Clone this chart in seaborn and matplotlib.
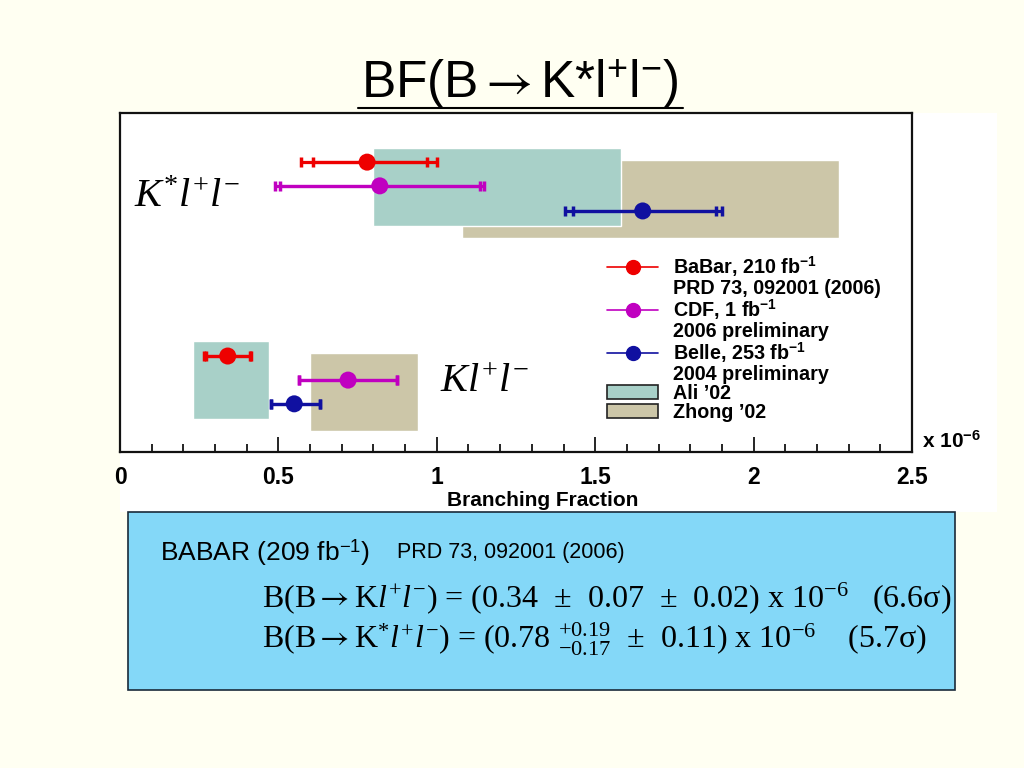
import matplotlib
matplotlib.use("Agg")
import matplotlib.pyplot as plt
import pandas as pd
import seaborn as sns
from matplotlib.lines import Line2D
from matplotlib.patches import Patch, Rectangle

# measurements, branching fraction in units of 1e-6
experiments = ["BaBar", "CDF", "Belle"]
exp_colors = ["#ee0000", "#c000c0", "#1010a0"]
legend_first = ["BaBar, 210 fb$^{\\mathbf{-1}}$", "CDF, 1 fb$^{\\mathbf{-1}}$", "Belle, 253 fb$^{\\mathbf{-1}}$"]
legend_second = ["PRD 73, 092001 (2006)", "2006 preliminary", "2004 preliminary"]

kstar_bf = [0.78, 0.82, 1.65]
kstar_stat_lo = [0.61, 0.505, 1.43]
kstar_stat_hi = [0.97, 1.135, 1.88]
kstar_tot_lo = [0.57, 0.49, 1.405]
kstar_tot_hi = [1.00, 1.15, 1.90]
kstar_row = [0.855, 0.785, 0.711]

kll_bf = [0.34, 0.72, 0.55]
kll_stat_lo = [0.27, 0.565, 0.477]
kll_stat_hi = [0.41, 0.875, 0.63]
kll_tot_lo = [0.265, 0.565, 0.477]
kll_tot_hi = [0.413, 0.875, 0.63]
kll_row = [0.283, 0.212, 0.142]

# theory predictions (bands)
theories = ["Ali \u201902", "Zhong \u201902"]
theory_colors = ["#a8d0c8", "#ccc6a8"]
kstar_band_lo = [0.80, 1.08]
kstar_band_hi = [1.58, 2.27]
kstar_band_ylo = [0.667, 0.631]
kstar_band_yhi = [0.897, 0.861]
kll_band_lo = [0.23, 0.60]
kll_band_hi = [0.47, 0.94]
kll_band_ylo = [0.097, 0.062]
kll_band_yhi = [0.327, 0.292]

sns.set_theme(style="white")
plt.rcParams["font.family"] = ["Liberation Sans", "DejaVu Sans"]
plt.rcParams["text.color"] = "black"
plt.rcParams["xtick.color"] = "black"
plt.rcParams["mathtext.fontset"] = "custom"
plt.rcParams["mathtext.rm"] = "Liberation Serif"
plt.rcParams["mathtext.it"] = "Liberation Serif:italic"
plt.rcParams["mathtext.bf"] = "Liberation Sans:bold"
plt.rcParams["mathtext.sf"] = "Liberation Sans"
plt.rcParams["mathtext.cal"] = "STIXGeneral"  # only used for the arrows

ARROW = "$\\mathcal{\\rightarrow}$"

fig = plt.figure(figsize=(10.24, 7.68), dpi=100, facecolor="#fffff2")

# white canvas behind the plot
fig.patches.append(Rectangle((0.1172, 0.3333), 0.8564, 0.5195, transform=fig.transFigure,
                             facecolor="white", edgecolor="none", zorder=-1))

ax = fig.add_axes([0.1172, 0.4115, 0.7734, 0.4414])
ax.set_facecolor("white")

# bands, Zhong under Ali
for i in [1, 0]:
    ax.barh(y=(kstar_band_ylo[i] + kstar_band_yhi[i]) / 2, width=kstar_band_hi[i] - kstar_band_lo[i],
            height=kstar_band_yhi[i] - kstar_band_ylo[i], left=kstar_band_lo[i],
            color=theory_colors[i], zorder=1)
    ax.barh(y=(kll_band_ylo[i] + kll_band_yhi[i]) / 2, width=kll_band_hi[i] - kll_band_lo[i],
            height=kll_band_yhi[i] - kll_band_ylo[i], left=kll_band_lo[i],
            color=theory_colors[i], zorder=1)

# error bars: total then statistical
for bf, row, lo_t, hi_t, lo_s, hi_s in [
    (kstar_bf, kstar_row, kstar_tot_lo, kstar_tot_hi, kstar_stat_lo, kstar_stat_hi),
    (kll_bf, kll_row, kll_tot_lo, kll_tot_hi, kll_stat_lo, kll_stat_hi),
]:
    for i, c in enumerate(exp_colors):
        for lo, hi in [(lo_t[i], hi_t[i]), (lo_s[i], hi_s[i])]:
            ax.errorbar(bf[i], row[i], xerr=[[bf[i] - lo], [hi - bf[i]]], fmt="none",
                        ecolor=c, elinewidth=2.3, capsize=3.5, capthick=2.5, zorder=3)

points = pd.DataFrame({
    "experiment": experiments * 2,
    "bf": kstar_bf + kll_bf,
    "row": kstar_row + kll_row,
})
sns.scatterplot(data=points, x="bf", y="row", hue="experiment", palette=exp_colors,
                s=150, edgecolor="none", legend=False, zorder=5, ax=ax)

ax.set_xlim(0, 2.5)
ax.set_ylim(0, 1)
ax.set_xlabel("")
ax.set_ylabel("")
ax.set_yticks([])
ax.set_xticks([0, 0.5, 1, 1.5, 2, 2.5])
ax.set_xticklabels(["0", "0.5", "1", "1.5", "2", "2.5"])
ax.set_xticks([x / 10 for x in range(26)], minor=True)
ax.tick_params(axis="x", which="major", direction="in", length=11, width=1.2, color="black",
               pad=10, labelsize=16.5, labelcolor="black", bottom=True)
ax.tick_params(axis="x", which="minor", direction="in", length=6, width=1.2, color="black", bottom=True)
for lab in ax.get_xticklabels():
    lab.set_fontweight("bold")
for sp in ax.spines.values():
    sp.set_color("#111111")
    sp.set_linewidth(1.6)

ax.text(0.654, -0.142, "Branching Fraction", transform=ax.transAxes, ha="right", va="center",
        fontsize=15, fontweight="bold")
ax.text(1.013, 0.0, "x 10$^{\\mathbf{-6}}$", transform=ax.transAxes, ha="left", va="bottom",
        fontsize=15, fontweight="bold")

ax.text(0.045, 0.723, "$K^{\\mathrm{*}}l^{+}l^{-}$", fontsize=29, ha="left", va="baseline")
ax.text(1.01, 0.177, "$Kl^{+}l^{-}$", fontsize=29, ha="left", va="baseline")

# legend, one row per text line
handles, labels = [], []
blank = Line2D([], [], linestyle="none")
for i, c in enumerate(exp_colors):
    handles += [Line2D([], [], color=c, lw=1.2, marker="o", ms=10), blank]
    labels += [legend_first[i], legend_second[i]]
for i, c in enumerate(theory_colors):
    handles.append(Patch(facecolor=c, edgecolor="#222222", lw=1.2))
    labels.append(theories[i])
leg = ax.legend(handles, labels, loc="upper left", bbox_to_anchor=(0.6025, 0.611), frameon=False,
                borderpad=0, handlelength=2.6, handletextpad=0.72, labelspacing=0.0,
                prop={"weight": "bold", "size": 14.2, "family": "Liberation Sans"})

# title
fig.text(0.508, 0.891, "BF(B" + ARROW + "K*l$^{\\mathsf{+}}$l$^{\\mathsf{-}}$)", ha="center", va="center",
         fontsize=37, family=["Liberation Sans", "DejaVu Sans"])
fig.lines.append(Line2D([0.35, 0.667], [0.859, 0.859], transform=fig.transFigure, color="black", lw=1.5))

# result box
fig.patches.append(Rectangle((0.125, 0.1016), 0.8076, 0.2318, transform=fig.transFigure,
                             facecolor="#84d8f8", edgecolor="#1a2a3a", lw=1.2, zorder=2))
fig.text(0.156, 0.281, "BABAR (209 fb$^{\\mathsf{-1}}$)", ha="left", va="center", fontsize=19,
         zorder=3)
fig.text(0.388, 0.281, "PRD 73, 092001 (2006)", ha="left", va="center", fontsize=15.5,
         zorder=3)
serif = ["Liberation Serif", "DejaVu Serif"]
fig.text(0.256, 0.221,
         "B(B" + ARROW + "K$l^{+}l^{-}$) = (0.34  \u00b1  0.07  \u00b1  0.02) x 10$^{-6}$   (6.6\u03c3)",
         ha="left", va="center", fontsize=23, family=serif, zorder=3)
fig.text(0.256, 0.167,
         "B(B" + ARROW + "K$^{*}l^{+}l^{-}$) = (0.78 $^{+0.19}_{-0.17}$  \u00b1  0.11) x 10$^{-6}$    (5.7\u03c3)",
         ha="left", va="center", fontsize=23, family=serif, zorder=3)

fig.savefig("out.png", dpi=100, facecolor=fig.get_facecolor())
